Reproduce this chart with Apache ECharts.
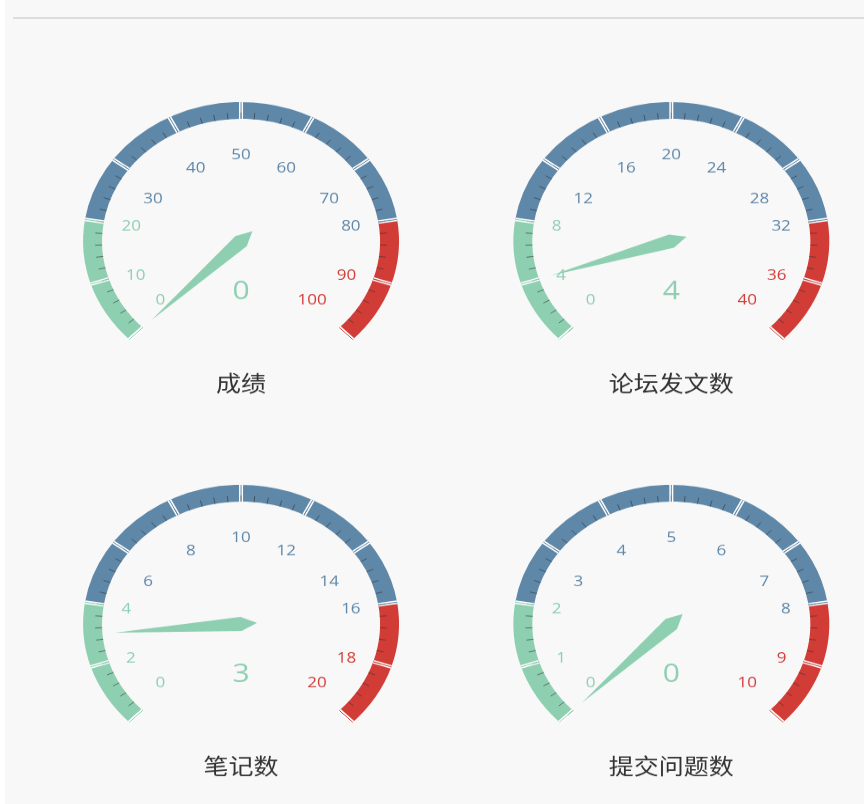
<!DOCTYPE html>
<html>
<head>
<meta charset="utf-8">
<script src="https://cdn.jsdelivr.net/npm/echarts@6/dist/echarts.min.js"></script>
<style>
html,body{margin:0;padding:0;background:#ffffff;overflow:hidden;}
#panel{position:absolute;left:5px;top:0;width:859px;height:804px;background:#f8f8f8;}
#rule{position:absolute;left:13px;top:17px;width:851px;height:2px;background:#dddddd;}
#main{position:absolute;left:0;top:0;width:864px;height:914px;transform:scaleY(0.88);transform-origin:0 0;}
</style>
</head>
<body>
<div id="panel"></div>
<div id="rule"></div>
<div id="main"></div>
<script>
const gaugeNames = ['成绩', '论坛发文数', '笔记数', '提交问题数'];
const gaugeValues = [0, 4, 3, 0];
const gaugeMin = [0, 0, 0, 0];
const gaugeMax = [100, 40, 20, 10];
const bandStops = [0.2, 0.8, 1];
const bandColors = ['#8ecfb1', '#5f87a8', '#d23c37'];

const centers = [['27.9%', 274], ['77.7%', 274], ['27.9%', 709], ['77.7%', 709]];
const bandWidth = 19;
const startAngle = 225, endAngle = -45;
const colorList = bandStops.map((s, i) => [s, bandColors[i]]);
const labelFont = {fontSize: 17, fontFamily: 'Open Sans, Noto Sans, sans-serif'};

const chart = echarts.init(document.getElementById('main'), null, {renderer: 'canvas'});
const series = [];
gaugeNames.forEach((name, i) => {
  const mn = gaugeMin[i], mx = gaugeMax[i];
  const base = {
    type: 'gauge',
    center: centers[i],
    radius: 158,
    min: mn,
    max: mx,
    splitNumber: 10,
    startAngle: startAngle,
    endAngle: endAngle
  };
  const labelFormatter = function (v) {
    const frac = (v - mn) / (mx - mn);
    const ang = (startAngle + (endAngle - startAngle) * frac) * Math.PI / 180;
    const s = Math.sin(ang);
    let key = 'mid';
    if (s > 0.95) key = 'top';
    else if (s > 0.7) key = 'upper';
    else if (s > 0.5) key = 'side';
    else if (s < -0.5) key = 'low';
    return '{' + key + '|' + v + '}';
  };
  series.push(Object.assign({}, base, {
    name: name,
    axisLine: {lineStyle: {width: bandWidth, color: colorList}},
    splitLine: {show: true, distance: -bandWidth, length: bandWidth, lineStyle: {color: '#ffffff', width: 4}},
    axisTick: {show: true, splitNumber: 5, distance: -7, length: 7, lineStyle: {color: 'rgba(50,50,50,0.6)', width: 1}},
    axisLabel: {
      show: true, distance: 37, color: 'auto',
      fontSize: labelFont.fontSize, fontFamily: labelFont.fontFamily,
      formatter: labelFormatter,
      rich: {
        top: Object.assign({padding: [15, 0, 0, 0]}, labelFont),
        upper: Object.assign({padding: [16, 0, 0, 0]}, labelFont),
        side: Object.assign({padding: [46, 0, 0, 0]}, labelFont),
        low: Object.assign({padding: [0, 0, 36, 0]}, labelFont),
        mid: Object.assign({padding: [4, 0, 0, 0]}, labelFont)
      }
    },
    pointer: {show: true, length: '80%', width: 8, itemStyle: {color: 'auto'}},
    anchor: {show: false},
    progress: {show: false},
    title: {show: true, offsetCenter: [0, 161], fontSize: 25, color: '#333333', fontFamily: 'Noto Sans CJK SC, sans-serif'},
    detail: {show: true, offsetCenter: [0, 57], fontSize: 30, fontWeight: 'normal', color: 'auto', fontFamily: 'Open Sans, Noto Sans, sans-serif', formatter: '{value}'},
    data: [{value: gaugeValues[i], name: name}]
  }));
  series.push(Object.assign({}, base, {
    name: name + '-split',
    silent: true,
    axisLine: {lineStyle: {width: bandWidth, color: colorList, opacity: 0}},
    splitLine: {show: true, distance: -bandWidth, length: bandWidth, lineStyle: {color: 'auto', width: 1}},
    axisTick: {show: false},
    axisLabel: {show: false},
    pointer: {show: false},
    anchor: {show: false},
    progress: {show: false},
    title: {show: false},
    detail: {show: false},
    data: [{value: gaugeValues[i]}]
  }));
});
chart.setOption({animation: false, series: series});
</script>
</body>
</html>
